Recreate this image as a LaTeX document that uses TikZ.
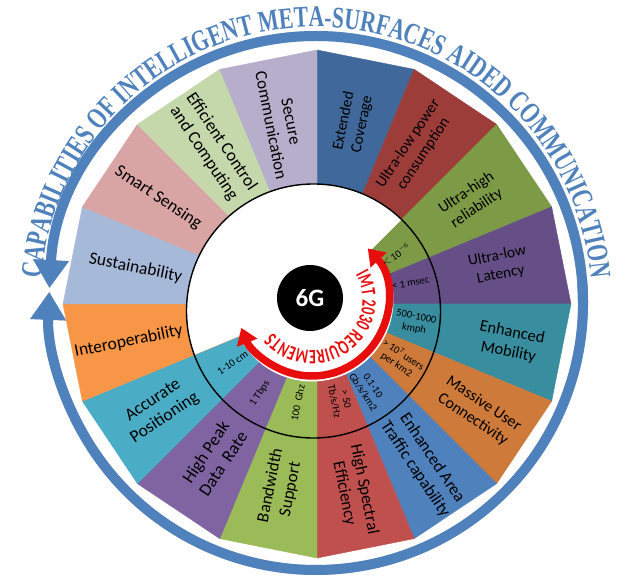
\documentclass[tikz,border=0pt]{standalone}
\usepackage{fontspec}
\setmainfont{Carlito}
\newfontfamily\titlefont[FakeStretch=0.72]{Liberation Serif}
\newfontfamily\reqfont[FakeStretch=0.68]{Carlito}
\usetikzlibrary{arrows.meta,decorations.text}
\definecolor{ringblue}{RGB}{79,129,189}
\definecolor{imtred}{RGB}{232,14,14}
\definecolor{c0}{RGB}{64,104,154}
\definecolor{c1}{RGB}{156,61,58}
\definecolor{c2}{RGB}{125,154,70}
\definecolor{c3}{RGB}{101,79,134}
\definecolor{c4}{RGB}{56,141,158}
\definecolor{c5}{RGB}{205,122,58}
\definecolor{c6}{RGB}{79,129,189}
\definecolor{c7}{RGB}{192,80,77}
\definecolor{c8}{RGB}{155,187,89}
\definecolor{c9}{RGB}{128,100,162}
\definecolor{c10}{RGB}{75,172,198}
\definecolor{c11}{RGB}{247,150,70}
\definecolor{c12}{RGB}{167,185,217}
\definecolor{c13}{RGB}{217,165,164}
\definecolor{c14}{RGB}{197,216,171}
\definecolor{c15}{RGB}{183,174,203}
\tikzset{
  lab/.style={align=center, inner sep=0pt, text=black},
  bigf/.style={font=\fontsize{17.5}{21}\selectfont},
  midf/.style={font=\fontsize{15.5}{18.6}\selectfont},
  req/.style={align=center, inner sep=0pt, text=black, font=\fontsize{10.5}{12}\selectfont},
  ringarrow/.style={line width=10pt, -{Triangle[width=34pt,length=28pt]}}
}
\begin{document}
\begin{tikzpicture}[x=1pt,y=1pt]
\useasboundingbox (0,0) rectangle (632,576);
\coordinate (C) at (317,272);
\coordinate (K) at (313.5,265);
\coordinate (G) at (310,278);
\coordinate (A) at (312,276);
\coordinate (B) at (316,273);

% shadow of blue ring
\begin{scope}[shift={(1.5,-3.5)}]
\draw[ringarrow, black!22] ([shift={(0:267)}]B) arc[start angle=0, end angle=176.8, radius=267];
\draw[ringarrow, black!22] ([shift={(5:267)}]B) arc[start angle=5, end angle=-182.4, radius=267];
\end{scope}
% blue ring arrows
\draw[ringarrow, ringblue] ([shift={(0:267)}]B) arc[start angle=0, end angle=176.8, radius=267];
\draw[ringarrow, ringblue] ([shift={(5:267)}]B) arc[start angle=5, end angle=-182.4, radius=267];

% segments
\foreach \i in {0,...,15}{
  \fill[c\i, draw=c\i, line width=0.4pt] (C) -- ([shift={({90-22.5*\i}:254)}]C) -- ([shift={({67.5-22.5*\i}:254)}]C) -- cycle;
}

% white inner area
\begin{scope}
\clip (K) circle (127);
\fill[white] (C) -- ([shift={(45:300)}]C) arc[start angle=45, end angle=202.5, radius=300] -- cycle;
\end{scope}
\fill[white] (A) circle (76);

% black ring
\draw[line width=1.4pt, black] (K) circle (127);

% red requirement arc
\draw[white, line width=11pt] ([shift={(38:76)}]A) arc[start angle=38, end angle=-154, radius=76];
\draw[imtred, line width=7.5pt, {Triangle[width=21pt,length=16pt]}-{Triangle[width=21pt,length=16pt]}] ([shift={(42.8:76)}]A) arc[start angle=42.8, end angle=-158.5, radius=76];
\path[decorate, decoration={text along path, text align=center, text color=imtred,
  text={|\reqfont\bfseries\fontsize{20.5}{20.5}\selectfont|IMT 2030 REQUIREMENTS}}]
  ([shift={(40:50.5)}]A) arc[start angle=40, end angle=-150, radius=50.5];

% 6G
\node[circle, fill=black, minimum size=66pt, inner sep=0pt, text=white, font=\bfseries\fontsize{25}{25}\selectfont] (g6) at (G) {6G};

% segment labels
\node[lab, midf, rotate=78.75] (l0) at ([shift={(78.75:185)}]C) {Extended\\Coverage};
\node[lab, midf, rotate=56.25] (l1) at ([shift={(57.5:184)}]C) {Ultra-low power\\consumption};
\node[lab, midf, rotate=33.75] (l2) at ([shift={(33.75:186)}]C) {Ultra-high\\reliability};
\node[lab, midf, rotate=11.25] (l3) at ([shift={(12:186)}]C) {Ultra-low\\Latency};
\node[lab, font=\fontsize{16.5}{19.8}\selectfont, rotate=-11.25] (l4) at ([shift={(-11.25:197)}]C) {Enhanced\\Mobility};
\node[lab, font=\fontsize{16}{19.2}\selectfont, rotate=-33.75] (l5) at ([shift={(-33.75:194)}]C) {Massive User\\Connectivity};
\node[lab, font=\fontsize{17}{20.4}\selectfont, rotate=-56.25] (l6) at ([shift={(-56.25:192)}]C) {Enhanced Area\\Traffic capability};
\node[lab, font=\fontsize{17}{20.4}\selectfont, rotate=-78.75] (l7) at ([shift={(-78.75:191)}]C) {High Spectral\\Efficiency};
\node[lab, font=\fontsize{17}{20.4}\selectfont, rotate=78.75] (l8) at ([shift={(-101.25:187)}]C) {Bandwidth\\Support};
\node[lab, bigf, rotate=56.25] (l9) at ([shift={(-123.75:185)}]C) {High Peak\\Data~~Rate};
\node[lab, bigf, rotate=33.75] (l10) at ([shift={(-146.25:190)}]C) {Accurate\\Positioning};
\node[lab, bigf, rotate=11.25] (l11) at ([shift={(-168.75:192)}]C) {Interoperability};
\node[lab, bigf, rotate=-11.25] (l12) at ([shift={(168.75:185)}]C) {Sustainability};
\node[lab, bigf, rotate=-33.75] (l13) at ([shift={(146.25:191)}]C) {Smart Sensing};
\node[lab, bigf, rotate=-56.25] (l14) at ([shift={(123.75:188)}]C) {Efficient Control\\and Computing};
\node[lab, font=\fontsize{17}{20.4}\selectfont, rotate=-78.75] (l15) at ([shift={(101.25:184)}]C) {Secure\\Communication};

% requirement labels
\node[req, rotate=33.75] (r0) at ([shift={(32:93)}]C) {$<$\,10$^{-6}$};
\node[req, rotate=11.25] (r1) at ([shift={(12.7:96)}]C) {< 1 msec};
\node[req, rotate=-11.25] (r2) at ([shift={(-11:100)}]C) {500-1000\\kmph};
\node[req, rotate=-33.75] (r3) at ([shift={(-33.7:100)}]C) {> 10\textsuperscript{7} users\\per km2};
\node[req, rotate=-56.25] (r4) at ([shift={(-59:99)}]C) {0.1-10\\Gb/s/km2};
\node[req, rotate=-78.75] (r5) at ([shift={(-76.5:99)}]C) {> 50\\Tb/s/Hz};
\node[req, rotate=78.75] (r6) at ([shift={(259:101)}]C) {100~~Ghz};
\node[req, rotate=56.25] (r7) at ([shift={(237.4:106)}]C) {1 Tbps};
\node[req, rotate=33.75] (r8) at ([shift={(215:103)}]C) {1-10 cm};

% title along ring
\path[decorate, decoration={text along path, text align=center, text color=ringblue,
  text={|\titlefont\bfseries\fontsize{30}{30}\selectfont|CAPABILITIES OF INTELLIGENT META-SURFACES AIDED COMMUNICATION}}]
  ([shift={(180:276)}]B) arc[start angle=180, end angle=0, radius=276];
\end{tikzpicture}
\end{document}
